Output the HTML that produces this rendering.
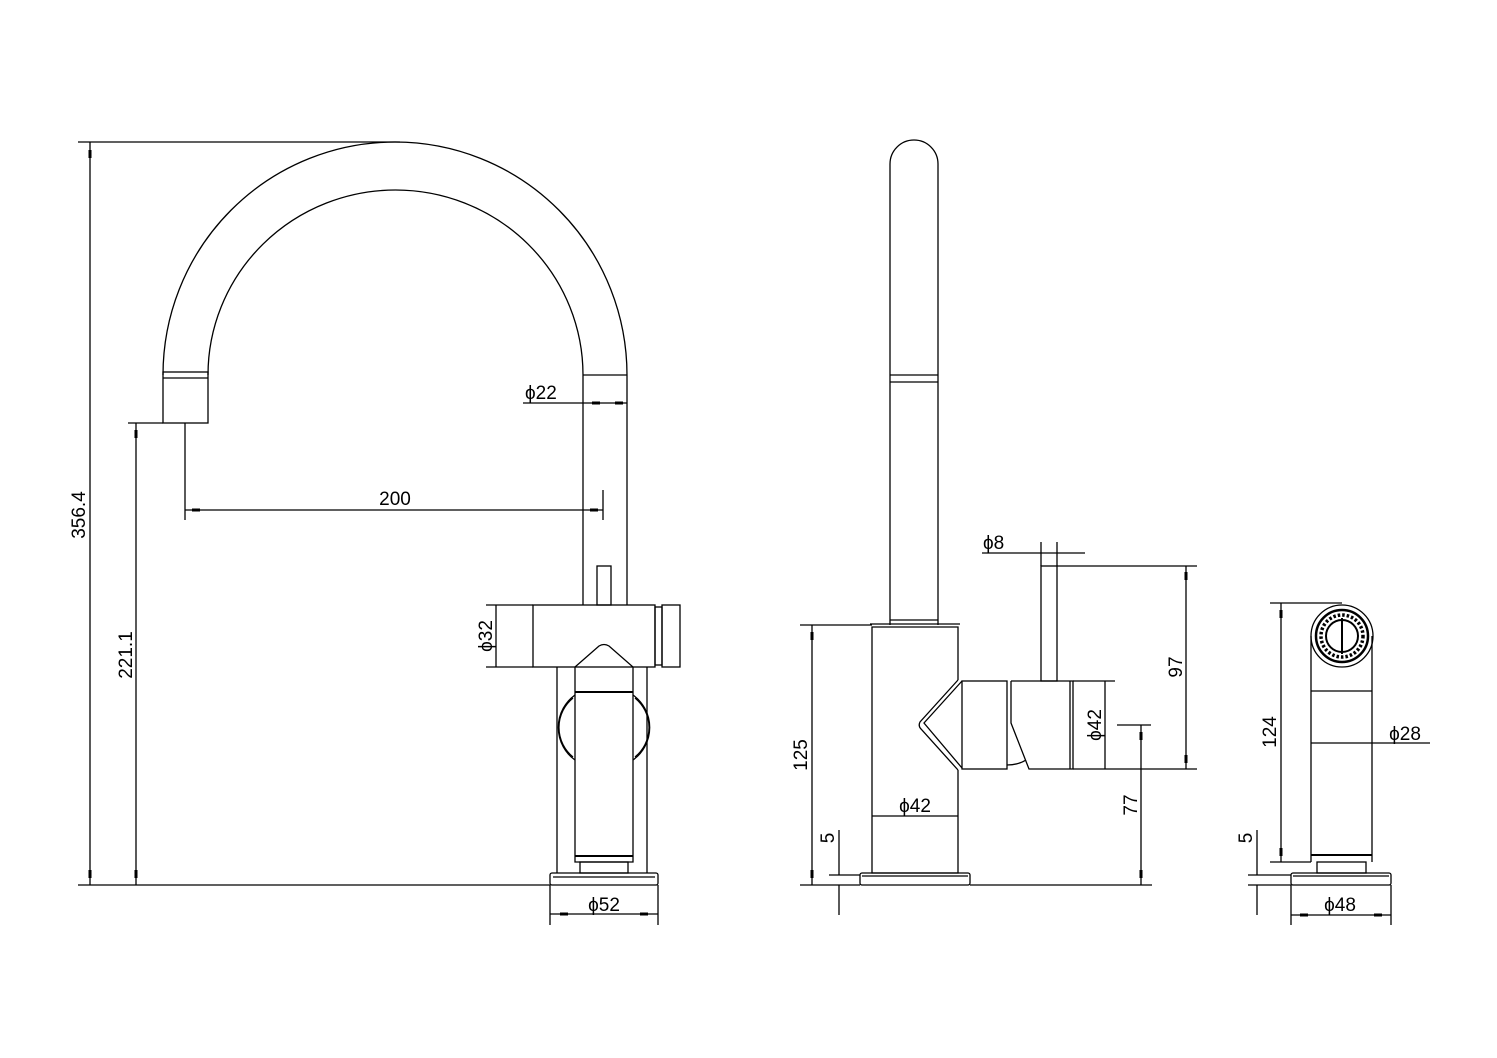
<!DOCTYPE html>
<html><head><meta charset="utf-8"><style>
html,body{margin:0;padding:0;background:#fff}
svg{display:block}
text{font-family:"Liberation Sans",sans-serif;font-size:19px;fill:#000}
</style></head><body>
<svg width="1497" height="1058" viewBox="0 0 1497 1058" xmlns="http://www.w3.org/2000/svg">
<g fill="none" stroke="#000" stroke-width="1.3">
<path d="M163,375 A232,233 0 0 1 627,375"/>
<path d="M208,375 A187.5,185 0 0 1 583,375"/>
<rect x="163" y="372" width="45" height="51"/>
<line x1="163" y1="378" x2="208" y2="378"/>
<line x1="583" y1="375" x2="627" y2="375"/>
<line x1="583" y1="375" x2="583" y2="605"/>
<line x1="627" y1="375" x2="627" y2="605"/>
<rect x="597" y="566" width="14" height="39"/>
<rect x="533" y="605" width="122" height="62"/>
<rect x="655" y="607" width="7" height="58"/>
<rect x="662" y="605" width="18" height="62"/>
<line x1="557" y1="667" x2="557" y2="873"/>
<line x1="647" y1="667" x2="647" y2="873"/>
<path d="M575,667 L599,646 Q604,643 609,646 L633,667 L633,862 L575,862 Z"/>
<line x1="575" y1="692" x2="633" y2="692" stroke-width="2"/>
<line x1="575" y1="856" x2="633" y2="856" stroke-width="2"/>
<path d="M575,695 A40,40 0 0 0 575,760"/>
<path d="M573,698 A38,38 0 0 0 573,757"/>
<path d="M633,695 A40,40 0 0 1 633,760"/>
<path d="M635,698 A38,38 0 0 1 635,757"/>
<rect x="580" y="862" width="48" height="11"/>
<rect x="550" y="873" width="108" height="12" rx="2"/>
<line x1="553" y1="877" x2="655" y2="877"/>
<line x1="78" y1="142" x2="400" y2="142"/>
<line x1="90" y1="142" x2="90" y2="885"/>
<line x1="78" y1="885" x2="550" y2="885"/>
<line x1="128" y1="423" x2="163" y2="423"/>
<line x1="136" y1="423" x2="136" y2="885"/>
<line x1="185" y1="423" x2="185" y2="520"/>
<line x1="603" y1="490" x2="603" y2="520"/>
<line x1="185" y1="510" x2="603" y2="510"/>
<line x1="523" y1="403" x2="627" y2="403"/>
<line x1="486" y1="605" x2="533" y2="605"/>
<line x1="486" y1="667" x2="533" y2="667"/>
<line x1="496" y1="605" x2="496" y2="667"/>
<line x1="550" y1="885" x2="550" y2="925"/>
<line x1="658" y1="885" x2="658" y2="925"/>
<line x1="550" y1="914" x2="658" y2="914"/>
<path d="M890,625 L890,164 A24,24 0 0 1 938,164 L938,625"/>
<line x1="890" y1="375" x2="938" y2="375"/>
<line x1="890" y1="382" x2="938" y2="382"/>
<line x1="890" y1="620" x2="938" y2="620"/>
<path d="M958,680 L958,627 L872,627 L872,873 L958,873 L958,770"/>
<line x1="870" y1="624" x2="960" y2="624"/>
<path d="M958,680 L920,722 Q918,726 921,729 L958,770"/>
<path d="M962,681 L924,723 L962,768"/>
<rect x="962" y="681" width="45" height="88"/>
<path d="M1011,681 L1073,681 L1073,769 L1029,769 L1011,723 L1011,681"/>
<line x1="1070" y1="681" x2="1070" y2="769"/>
<path d="M1007,765 Q1018,765 1026,760"/>
<rect x="1041" y="566" width="16" height="115"/>
<rect x="860" y="873" width="110" height="12" rx="2"/>
<line x1="862" y1="876" x2="968" y2="876"/>
<line x1="982" y1="553" x2="1085" y2="553"/>
<line x1="1041" y1="542" x2="1041" y2="566"/>
<line x1="1057" y1="542" x2="1057" y2="566"/>
<line x1="1057" y1="566" x2="1197" y2="566"/>
<line x1="1073" y1="769" x2="1197" y2="769"/>
<line x1="1186" y1="566" x2="1186" y2="769"/>
<line x1="1073" y1="681" x2="1115" y2="681"/>
<line x1="1105" y1="681" x2="1105" y2="769"/>
<line x1="1117" y1="725" x2="1151" y2="725"/>
<line x1="1141" y1="725" x2="1141" y2="885"/>
<line x1="970" y1="885" x2="1152" y2="885"/>
<line x1="800" y1="625" x2="872" y2="625"/>
<line x1="800" y1="885" x2="860" y2="885"/>
<line x1="812" y1="625" x2="812" y2="885"/>
<line x1="829" y1="875" x2="860" y2="875"/>
<line x1="839" y1="830" x2="839" y2="875"/>
<line x1="839" y1="885" x2="839" y2="915"/>
<line x1="872" y1="816" x2="958" y2="816"/>
<line x1="1311" y1="636" x2="1311" y2="862"/>
<line x1="1372" y1="636" x2="1372" y2="862"/>
<circle cx="1342" cy="636" r="31"/>
<circle cx="1342" cy="636" r="26" stroke-width="2.5"/>
<circle cx="1342" cy="636" r="16" stroke-width="2"/>
<circle cx="1342" cy="636" r="21" stroke-width="3.5" stroke-dasharray="2.5 2"/>
<line x1="1342" y1="618" x2="1342" y2="654" stroke-width="2"/>
<line x1="1311" y1="691" x2="1372" y2="691"/>
<line x1="1311" y1="855" x2="1372" y2="855" stroke-width="2"/>
<rect x="1317" y="862" width="49" height="11"/>
<rect x="1291" y="873" width="100" height="12" rx="2"/>
<line x1="1293" y1="876" x2="1389" y2="876"/>
<line x1="1270" y1="603" x2="1342" y2="603"/>
<line x1="1270" y1="862" x2="1311" y2="862"/>
<line x1="1281" y1="603" x2="1281" y2="862"/>
<line x1="1311" y1="743" x2="1430" y2="743"/>
<line x1="1248" y1="875" x2="1291" y2="875"/>
<line x1="1248" y1="885" x2="1291" y2="885"/>
<line x1="1257" y1="830" x2="1257" y2="875"/>
<line x1="1257" y1="885" x2="1257" y2="915"/>
<line x1="1291" y1="885" x2="1291" y2="925"/>
<line x1="1391" y1="885" x2="1391" y2="925"/>
<line x1="1291" y1="915" x2="1391" y2="915"/>
</g>
<g stroke="#000" stroke-width="3">
<line x1="192" y1="510" x2="200" y2="510"/><line x1="590" y1="510" x2="598" y2="510"/>
<line x1="592" y1="403" x2="600" y2="403"/><line x1="615" y1="403" x2="623" y2="403"/>
<line x1="90" y1="150" x2="90" y2="158"/><line x1="90" y1="870" x2="90" y2="878"/>
<line x1="136" y1="430" x2="136" y2="438"/><line x1="136" y1="870" x2="136" y2="878"/>
<line x1="560" y1="914" x2="568" y2="914"/><line x1="640" y1="914" x2="648" y2="914"/>
<line x1="812" y1="632" x2="812" y2="640"/><line x1="812" y1="870" x2="812" y2="878"/>
<line x1="1186" y1="572" x2="1186" y2="580"/><line x1="1186" y1="755" x2="1186" y2="763"/>
<line x1="1141" y1="732" x2="1141" y2="740"/><line x1="1141" y1="870" x2="1141" y2="878"/>
<line x1="1281" y1="610" x2="1281" y2="618"/><line x1="1281" y1="848" x2="1281" y2="856"/>
<line x1="1300" y1="915" x2="1308" y2="915"/><line x1="1374" y1="915" x2="1382" y2="915"/>
</g>
<text x="85" y="515" transform="rotate(-90 85 515)" text-anchor="middle">356.4</text>
<text x="132" y="655" transform="rotate(-90 132 655)" text-anchor="middle">221.1</text>
<text x="395" y="505" text-anchor="middle">200</text>
<text x="525" y="399">ϕ22</text>
<text x="492" y="636" transform="rotate(-90 492 636)" text-anchor="middle">ϕ32</text>
<text x="604" y="911" text-anchor="middle">ϕ52</text>
<text x="983" y="549">ϕ8</text>
<text x="1182" y="667" transform="rotate(-90 1182 667)" text-anchor="middle">97</text>
<text x="1101" y="725" transform="rotate(-90 1101 725)" text-anchor="middle">ϕ42</text>
<text x="1137" y="805" transform="rotate(-90 1137 805)" text-anchor="middle">77</text>
<text x="807" y="755" transform="rotate(-90 807 755)" text-anchor="middle">125</text>
<text x="834" y="838" transform="rotate(-90 834 838)" text-anchor="middle">5</text>
<text x="915" y="812" text-anchor="middle">ϕ42</text>
<text x="1276" y="732" transform="rotate(-90 1276 732)" text-anchor="middle">124</text>
<text x="1405" y="740" text-anchor="middle">ϕ28</text>
<text x="1252" y="838" transform="rotate(-90 1252 838)" text-anchor="middle">5</text>
<text x="1340" y="911" text-anchor="middle">ϕ48</text>
</svg>
</body></html>
